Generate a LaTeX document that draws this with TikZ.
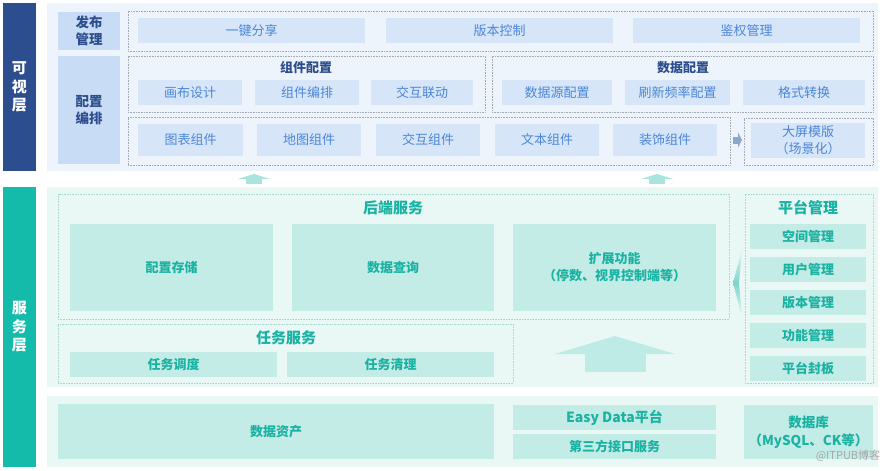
\documentclass[tikz,border=0pt]{standalone}
\usepackage{fontspec}
\setmainfont{Noto Sans CJK SC}
\usepackage{tikz}
\usetikzlibrary{calc}
\usetikzlibrary{arrows.meta}
\tikzset{>=latex}

\definecolor{visnavy}{HTML}{2D4E8E}
\definecolor{visbg}{HTML}{EEF4FB}
\definecolor{vislab}{HTML}{C9DCF5}
\definecolor{visbox}{HTML}{D6E6F8}
\definecolor{vistext}{HTML}{4C86D8}
\definecolor{visline}{HTML}{A3AAB8}
\definecolor{arrowblue}{HTML}{8FA6CC}
\definecolor{srvteal}{HTML}{14BBAB}
\definecolor{srvbg}{HTML}{E9F8F5}
\definecolor{srvbox}{HTML}{C4ECE7}
\definecolor{srvtext}{HTML}{1AB2A2}
\definecolor{srvline}{HTML}{A6D8D0}
\definecolor{arrowteal}{HTML}{A9E4DD}
\definecolor{bigteal}{HTML}{BFEBE6}
\definecolor{chevteal}{HTML}{7FD5CB}

\tikzset{
  cell/.style={anchor=north west, inner sep=0pt, outer sep=0pt, align=center},
  wd/.style={minimum width=#1pt},
  ht/.style={minimum height=#1pt},
  layertext/.style={cell, text=white, font=\bfseries\fontsize{15}{18.5}\selectfont},
  panel/.style={cell},
  vislabel/.style={cell, fill=vislab, text=visnavy, font=\bfseries\fontsize{13.5}{17}\selectfont},
  visitem/.style={cell, fill=visbox, text=vistext, font=\fontsize{13}{17}\selectfont},
  vistitle/.style={text=visnavy, font=\bfseries\fontsize{13}{16}\selectfont},
  visframe/.style={cell, draw=visline, densely dotted, line width=.6pt},
  srvitem/.style={cell, fill=srvbox, text=srvtext, font=\bfseries\fontsize{13}{17}\selectfont},
  srvtitle/.style={text=srvtext, font=\bfseries\fontsize{15}{18}\selectfont},
  srvframe/.style={cell, draw=srvline, densely dotted, line width=.6pt},
  layerup/.style={draw=arrowteal, line width=16pt, -{Triangle[length=5pt,width=32pt]}, shorten >=3pt},
  sideright/.style={draw=arrowblue, line width=7pt, -{Triangle[length=4pt,width=15pt]}},
  bigup/.style={draw=bigteal, line width=61pt, -{Triangle[length=18pt,width=120pt]}},
}

\begin{document}
\begin{tikzpicture}[x=1pt, y=-1pt]
  \path[use as bounding box, fill=white] (0,0) rectangle (889,471);

  % layers
  \node[layertext, wd=33, ht=168, fill=visnavy] (visbar) at (3,3) {可\\视\\层};
  \node[layertext, wd=33, ht=280, fill=srvteal] (srvbar) at (3,187) {服\\务\\层};
  \node[panel, wd=831, ht=168, fill=visbg] (vispanel) at (47,3) {};
  \node[panel, wd=831, ht=200, fill=srvbg] (srvpanel) at (47,187) {};
  \node[panel, wd=831, ht=71, fill=srvbg] (datpanel) at (47,396) {};

  % visual layer
  \node[vislabel, wd=62, ht=38] (pub) at (58,12) {发布\\管理};
  \node[vislabel, wd=62, ht=108] (cfg) at (58,56) {配置\\编排};

  \node[visframe, wd=745, ht=40] (pubrow) at (128,11) {};
  \node[visitem, wd=227, ht=25] (share) at (138,18) {一键分享};
  \node[visitem, wd=227, ht=25] (vers) at (386,18) {版本控制};
  \node[visitem, wd=227, ht=25] (auth) at (633,18) {鉴权管理};

  \node[visframe, wd=357, ht=56] (compcfg) at (128,56) {};
  \node[vistitle] (compcfgtitle) at (306,68) {组件配置};
  \node[visitem, wd=104, ht=25] (canvas) at (138,80) {画布设计};
  \node[visitem, wd=104, ht=25] (arrange) at (255,80) {组件编排};
  \node[visitem, wd=102, ht=25] (link) at (371,80) {交互联动};

  \node[visframe, wd=381, ht=56] (datacfg) at (492,56) {};
  \node[vistitle] (datacfgtitle) at (683,68) {数据配置};
  \node[visitem, wd=110, ht=25] (dsrc) at (502,80) {数据源配置};
  \node[visitem, wd=105, ht=25] (refresh) at (625,80) {刷新频率配置};
  \node[visitem, wd=122, ht=25] (fmt) at (743,80) {格式转换};

  \node[visframe, wd=602, ht=48] (comps) at (128,117) {};
  \node[visitem, wd=105, ht=32] (chart) at (138,124) {图表组件};
  \node[visitem, wd=104, ht=32] (map) at (257,124) {地图组件};
  \node[visitem, wd=104, ht=32] (inter) at (376,124) {交互组件};
  \node[visitem, wd=104, ht=32] (txt) at (495,124) {文本组件};
  \node[visitem, wd=104, ht=32] (deco) at (613,124) {装饰组件};

  \node[visframe, wd=129, ht=47] (tplframe) at (744,118) {};
  \node[visitem, wd=114, ht=35] (tpl) at (751,123) {大屏模版\\（场景化）};
  \draw[sideright, shorten <=16pt, shorten >=2pt] (deco.east) -- (deco.east -| tplframe.west);

  % layer arrows
  \coordinate (up1) at (254,184);
  \coordinate (up2) at (657,184);
  \draw[layerup] (up1) -- (up1 |- vispanel.south);
  \draw[layerup] (up2) -- (up2 |- vispanel.south);

  % service layer
  \node[srvframe, wd=671, ht=125] (backend) at (58,194) {};
  \node[srvtitle] (backendtitle) at (393,208) {后端服务};
  \node[srvitem, wd=203, ht=87] (store) at (70,224) {配置存储};
  \node[srvitem, wd=202, ht=87] (query) at (292,224) {数据查询};
  \node[srvitem, wd=203, ht=87] (ext) at (513,224) {扩展功能\\（停数、视界控制端等）};

  \node[srvframe, wd=455, ht=59] (task) at (58,324) {};
  \node[srvtitle] (tasktitle) at (286,338) {任务服务};
  \node[srvitem, wd=207, ht=25] (sched) at (70,352) {任务调度};
  \node[srvitem, wd=207, ht=25] (clean) at (287,352) {任务清理};

  \coordinate (bigfoot) at (615,372);
  \draw[bigup, shorten >=25pt] (bigfoot) -- (bigfoot |- ext.south);

  \node[srvframe, wd=128, ht=189] (plat) at (745,194) {};
  \node[srvtitle] (plattitle) at (808,208) {平台管理};
  \node[srvitem, wd=116, ht=25] (space) at (750,224) {空间管理};
  \node[srvitem, wd=116, ht=25] (user) at (750,257) {用户管理};
  \node[srvitem, wd=116, ht=25] (pver) at (750,290) {版本管理};
  \node[srvitem, wd=116, ht=25] (func) at (750,323) {功能管理};
  \node[srvitem, wd=116, ht=25] (seal) at (750,356) {平台封板};
  \shade[top color=srvbg, bottom color=srvbg, middle color=chevteal]
    (742,249) -- (733,283) -- (742,317) -- (739,283) -- cycle;

  % data layer
  \node[srvitem, wd=436, ht=55] (asset) at (58,404) {数据资产};
  \node[srvitem, wd=203, ht=25, font=\bfseries\fontsize{14}{17}\selectfont] (easy) at (513,405) {Easy Data平台};
  \node[srvitem, wd=203, ht=25] (third) at (513,434) {第三方接口服务};
  \node[srvitem, wd=129, ht=54, font=\bfseries\fontsize{13.5}{18}\selectfont] (db) at (744,405) {数据库\\（MySQL、CK等）};
  \node[text=gray!70, font=\fontsize{11}{13}\selectfont] (mark) at (848,456) {@ITPUB博客};
\end{tikzpicture}
\end{document}
